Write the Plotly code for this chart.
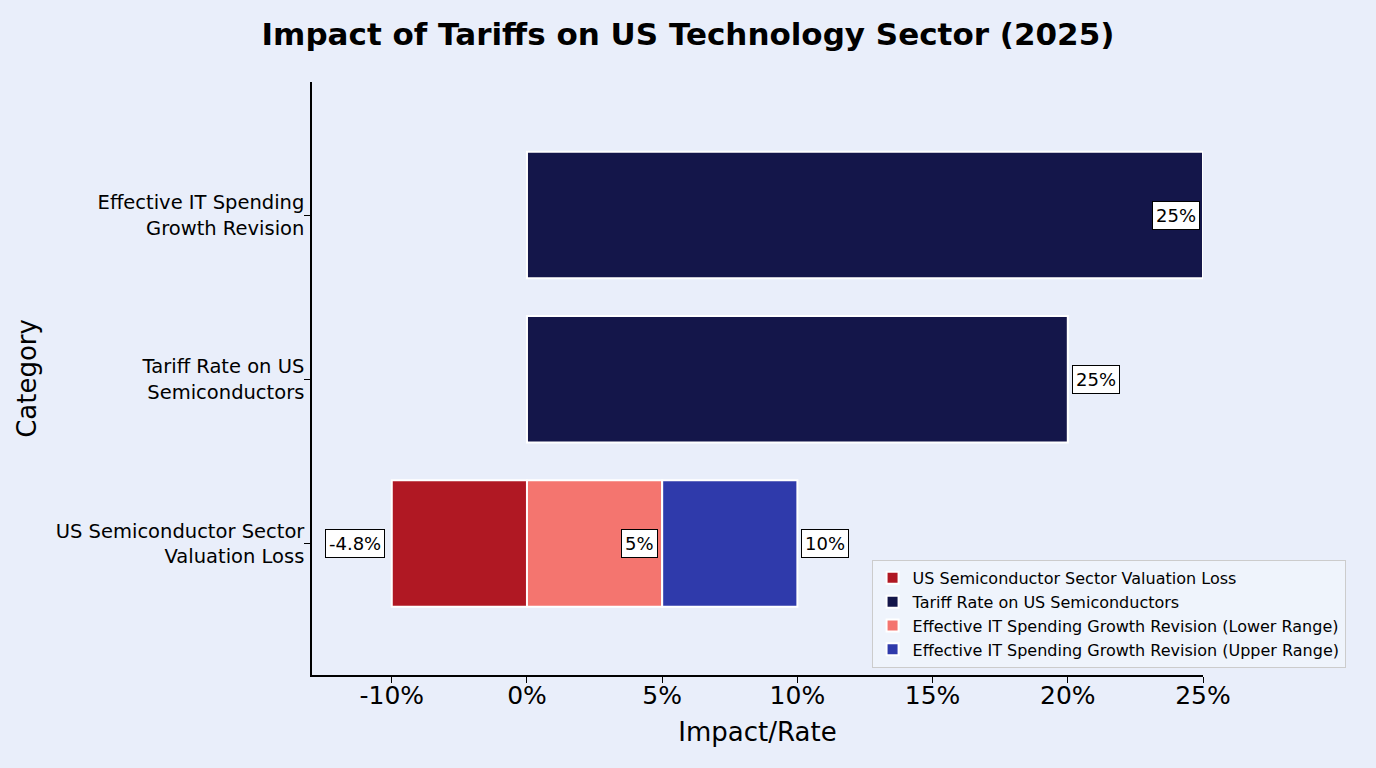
import plotly.graph_objects as go

categories = ["US Semiconductor Sector<br>Valuation Loss",
              "Tariff Rate on US<br>Semiconductors",
              "Effective IT Spending<br>Growth Revision"]

loss_values = [-5]            # bar length as drawn
tariff_cats = [categories[1], categories[2]]
tariff_values = [20, 25]
lower_values = [5]
upper_values = [5]

label_texts = ["-4.8%", "5%", "10%", "25%", "25%"]
tick_vals = [-5, 0, 5, 10, 15, 20, 25]
tick_text = ["-10%", "0%", "5%", "10%", "15%", "20%", "25%"]

bg = "#e9eefa"
edge = dict(color="white", width=2)
bw = 0.77

fig = go.Figure()
fig.add_trace(go.Bar(y=[categories[0]], x=loss_values, orientation="h",
                     name="US Semiconductor Sector Valuation Loss",
                     marker=dict(color="#b01823", line=edge), width=bw))
fig.add_trace(go.Bar(y=tariff_cats, x=tariff_values, orientation="h",
                     name="Tariff Rate on US Semiconductors",
                     marker=dict(color="#14164a", line=edge), width=bw))
fig.add_trace(go.Bar(y=[categories[0]], x=lower_values, orientation="h",
                     name="Effective IT Spending Growth Revision (Lower Range)",
                     marker=dict(color="#f4756f", line=edge), width=bw))
fig.add_trace(go.Bar(y=[categories[0]], x=upper_values, orientation="h",
                     name="Effective IT Spending Growth Revision (Upper Range)",
                     marker=dict(color="#2f3aab", line=edge), width=bw))

ann_specs = [
    (loss_values[0], categories[0], "right", -7),
    (lower_values[0], categories[0], "right", -4),
    (lower_values[0] + upper_values[0], categories[0], "left", 4),
    (tariff_values[1], categories[2], "right", -3),
    (tariff_values[0], categories[1], "left", 4),
]
for (xv, yc, anchor, shift), txt in zip(ann_specs, label_texts):
    fig.add_annotation(x=xv, y=yc, text=txt, showarrow=False, xanchor=anchor,
                       xshift=shift, font=dict(family="DejaVu Sans", size=18, color="black"),
                       bgcolor="white", bordercolor="black", borderwidth=1, borderpad=3)

fig.update_layout(
    barmode="relative",
    width=1376, height=768,
    paper_bgcolor=bg, plot_bgcolor=bg,
    margin=dict(l=312, r=173, t=82, b=93),
    title=dict(text="<b>Impact of Tariffs on US Technology Sector (2025)</b>",
               x=0.5, xanchor="center", y=0.955, yanchor="middle",
               font=dict(family="DejaVu Sans", size=31, color="black")),
    font=dict(family="DejaVu Sans", color="black"),
    showlegend=True,
    legend=dict(x=1.16, xanchor="right", y=0.194, yanchor="top",
                bgcolor="rgba(240,244,252,0.9)", bordercolor="#cccccc", borderwidth=1,
                font=dict(family="DejaVu Sans", size=16), traceorder="normal",
                itemwidth=30, tracegroupgap=0),
    xaxis=dict(range=[-7.95, 25], tickvals=tick_vals, ticktext=tick_text,
               showgrid=False, zeroline=False, showline=True, linecolor="black",
               linewidth=1.5, ticks="outside", ticklen=6, tickcolor="black",
               tickfont=dict(size=25), ticklabelstandoff=-9,
               title=dict(text="Impact/Rate", font=dict(size=26), standoff=14)),
    yaxis=dict(type="category", categoryorder="array", categoryarray=categories,
               range=[-0.8, 2.81], showgrid=False, zeroline=False, showline=True,
               linecolor="black", linewidth=1.5, ticks="outside", ticklen=6,
               tickcolor="black", tickfont=dict(size=19.5), ticklabelstandoff=-4,
               title=dict(text="Category", font=dict(size=26), standoff=12)),
)

fig.write_html("out.html")
